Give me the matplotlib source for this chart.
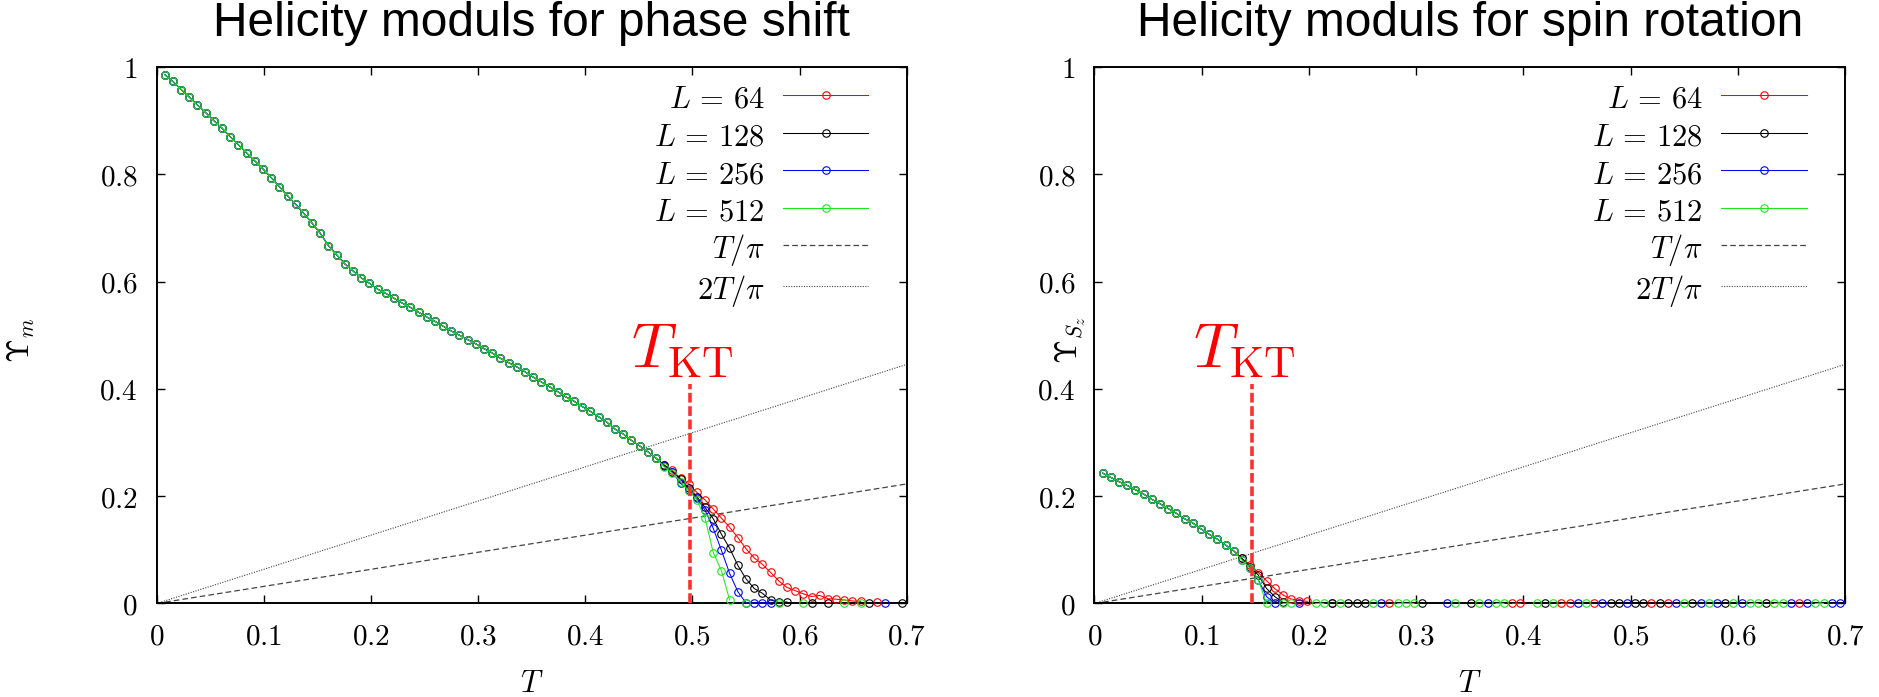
import numpy as np
import matplotlib
matplotlib.use("Agg")
import matplotlib.pyplot as plt
from matplotlib.ticker import FixedLocator, FuncFormatter

plt.rcParams["mathtext.fontset"] = "cm"
plt.rcParams["font.family"] = "DejaVu Serif"

# ---------------------------------------------------------------- data
# Monte Carlo temperatures: uniform grid, index k = 1..91
T_STEP = 0.00764
T = T_STEP * np.arange(1, 92)

sizes = [64, 128, 256, 512]
colors = ["#ff0000", "#000000", "#0000ff", "#1ee61e"]

# Upsilon_m (phase shift): all sizes coincide for k = 1..61
ups_m_common = [
    0.986, 0.973, 0.958, 0.944, 0.929, 0.915, 0.900, 0.886, 0.870, 0.855,
    0.840, 0.825, 0.810, 0.794, 0.777, 0.760, 0.744, 0.727, 0.709, 0.690,
    0.667, 0.650, 0.633, 0.620, 0.607, 0.597, 0.586, 0.578, 0.569, 0.560,
    0.552, 0.543, 0.534, 0.526, 0.517, 0.508, 0.500, 0.492, 0.484, 0.475,
    0.467, 0.457, 0.449, 0.441, 0.432, 0.422, 0.413, 0.404, 0.395, 0.385,
    0.377, 0.367, 0.358, 0.348, 0.338, 0.325, 0.316, 0.304, 0.294, 0.283,
    0.271,
]
# k = 62..91 for each size (negative = below the plotted range)
ups_m_tail_64 = [
    0.258, 0.248, 0.233, 0.223, 0.207, 0.193, 0.176, 0.159, 0.142, 0.123,
    0.102, 0.085, 0.073, 0.058, 0.042, 0.030, 0.024, 0.018, 0.013, 0.015,
    0.009, 0.008, 0.0065, 0.0047, 0.004, -0.002, 0.003, -0.002, -0.002, -0.002,
]
ups_m_tail_128 = [
    0.258, 0.246, 0.232, 0.215, 0.199, 0.179, 0.158, 0.129, 0.103, 0.071,
    0.046, 0.028, 0.019, 0.0065, 0.002, 0.003, -0.002, -0.002, 0.001, -0.002,
    0.001, -0.002, -0.002, -0.002, -0.002, 0.001, -0.002, -0.002, -0.002, 0.001,
]
ups_m_tail_256 = [
    0.256, 0.245, 0.224, 0.212, 0.196, 0.174, 0.140, 0.099, 0.056, 0.022,
    0.001, 0.001, 0.001, 0.001, -0.002, -0.002, -0.002, -0.002, -0.002, -0.002,
    -0.002, -0.002, -0.002, -0.002, -0.002, -0.002, -0.002, 0.001, -0.002, -0.002,
]
ups_m_tail_512 = [
    0.255, 0.243, 0.227, 0.210, 0.193, 0.159, 0.095, 0.061, 0.0065, -0.002,
    0.0, -0.002, -0.002, -0.002, 0.0, -0.002, -0.002, 0.0, -0.002, -0.002,
    -0.002, -0.002, 0.0, -0.002, 0.0, -0.002, -0.002, -0.002, -0.002, -0.002,
]

# Upsilon_Sz (spin rotation): all sizes coincide for k = 1..17
ups_s_common = [
    0.243, 0.235, 0.227, 0.220, 0.212, 0.204, 0.194, 0.186, 0.177, 0.168,
    0.158, 0.150, 0.139, 0.129, 0.120, 0.109, 0.098,
]
# k = 18..91 for each size
ups_s_tail_64 = [
    0.084, 0.072, 0.0575, 0.0425, 0.028, 0.016, 0.0084, 0.0055, 0.004, -0.002,
    -0.002, 0.0, -0.002, -0.002, -0.002, -0.002, -0.002, -0.002, 0.0, -0.002,
    -0.002, -0.002, -0.002, -0.002, -0.002, -0.002, -0.002, -0.002, -0.002, -0.002,
    -0.002, -0.002, -0.002, 0.0, 0.0, -0.002, -0.002, -0.002, -0.002, 0.0,
    0.0, -0.002, -0.002, 0.0, -0.002, -0.002, -0.002, -0.002, -0.002, -0.002,
    0.0, -0.002, 0.0, -0.002, -0.002, -0.002, -0.002, -0.002, -0.002, -0.002,
    -0.002, -0.002, -0.002, -0.002, -0.002, -0.002, -0.002, -0.002, 0.0, -0.002,
    -0.002, -0.002, -0.002, -0.002,
]
ups_s_tail_128 = [
    0.084, 0.068, 0.053, 0.028, 0.013, 0.002, -0.002, -0.002, -0.002, -0.002,
    -0.002, 0.0, -0.002, 0.0, 0.0, 0.0, -0.002, -0.002, -0.002, -0.002,
    -0.002, -0.002, 0.0, -0.002, -0.002, -0.002, -0.002, -0.002, 0.0, -0.002,
    -0.002, -0.002, -0.002, -0.002, -0.002, -0.002, -0.002, 0.0, -0.002, -0.002,
    -0.002, -0.002, -0.002, -0.002, -0.002, 0.0, 0.0, -0.002, 0.0, 0.0,
    -0.002, 0.0, -0.002, -0.002, -0.002, 0.0, -0.002, -0.002, -0.002, 0.0,
    -0.002, -0.002, -0.002, -0.002, 0.0, -0.002, -0.002, -0.002, -0.002, -0.002,
    -0.002, -0.002, -0.002, -0.002,
]
ups_s_tail_256 = [
    0.082, 0.066, 0.044, 0.013, 0.0, -0.002, -0.002, 0.0, -0.002, -0.002,
    -0.002, -0.002, -0.002, -0.002, -0.002, -0.002, -0.002, 0.0, -0.002, -0.002,
    -0.002, -0.002, -0.002, -0.002, -0.002, 0.0, -0.002, -0.002, -0.002, -0.002,
    0.0, -0.002, -0.002, -0.002, -0.002, -0.002, -0.002, -0.002, -0.002, -0.002,
    -0.002, 0.0, -0.002, -0.002, 0.0, -0.002, -0.002, 0.0, -0.002, -0.002,
    -0.002, -0.002, -0.002, 0.0, -0.002, -0.002, 0.0, -0.002, 0.0, -0.002,
    -0.002, 0.0, -0.002, -0.002, -0.002, -0.002, -0.002, 0.0, -0.002, 0.0,
    -0.002, -0.002, 0.0, 0.0,
]
ups_s_tail_512 = [
    0.081, 0.066, 0.044, 0.0, -0.002, 0.0, 0.0, -0.002, -0.002, 0.0,
    0.0, -0.002, 0.0, -0.002, -0.002, -0.002, 0.0, -0.002, -0.002, 0.0,
    0.0, 0.0, -0.002, -0.002, -0.002, -0.002, 0.0, -0.002, -0.002, 0.0,
    -0.002, 0.0, 0.0, -0.002, -0.002, -0.002, 0.0, -0.002, 0.0, -0.002,
    -0.002, -0.002, 0.0, -0.002, -0.002, -0.002, -0.002, -0.002, -0.002, -0.002,
    -0.002, -0.002, -0.002, -0.002, 0.0, -0.002, -0.002, 0.0, -0.002, -0.002,
    0.0, -0.002, 0.0, 0.0, -0.002, 0.0, 0.0, -0.002, -0.002, -0.002,
    0.0, 0.0, -0.002, -0.002,
]

# Kosterlitz-Thouless temperatures marked in each panel
T_KT_phase = 0.498
T_KT_spin = 0.147
T_KT_line_top = 0.41

x_ticks = [0, 0.1, 0.2, 0.3, 0.4, 0.5, 0.6, 0.7]
y_ticks = [0, 0.2, 0.4, 0.6, 0.8, 1.0]

ups_m = {
    64: ups_m_common + ups_m_tail_64,
    128: ups_m_common + ups_m_tail_128,
    256: ups_m_common + ups_m_tail_256,
    512: ups_m_common + ups_m_tail_512,
}
ups_s = {
    64: ups_s_common + ups_s_tail_64,
    128: ups_s_common + ups_s_tail_128,
    256: ups_s_common + ups_s_tail_256,
    512: ups_s_common + ups_s_tail_512,
}

# ---------------------------------------------------------------- figure
fig = plt.figure(figsize=(18.79, 6.97), dpi=100)
ax1 = fig.add_axes([0.08329, 0.13415, 0.39925, 0.76973])
ax2 = fig.add_axes([0.58249, 0.13415, 0.39941, 0.76973])

TICK_FS = 21
LEG_FS = 22
fmt = FuncFormatter(lambda v, p: "$%g$" % round(v, 2))


def style_axes(ax):
    ax.set_xlim(0, 0.7)
    ax.set_ylim(0, 1)
    ax.xaxis.set_major_locator(FixedLocator(x_ticks))
    ax.yaxis.set_major_locator(FixedLocator(y_ticks))
    ax.xaxis.set_major_formatter(fmt)
    ax.yaxis.set_major_formatter(fmt)
    ax.tick_params(direction="in", length=5.8, width=1.0, top=True, right=True,
                   labelsize=TICK_FS, pad=13.5)
    for s in ax.spines.values():
        s.set_linewidth(1.4)


def draw_panel(ax, curves, t_kt, title, ylabel, ylabel_x):
    style_axes(ax)
    for L, c in zip(sizes, colors):
        y = np.array(curves[L], dtype=float)
        y = np.where(y < 0, np.nan, y)  # values below the plotted range are not drawn
        ax.plot(T, y, color=c, lw=0.75, marker="o", ms=5.4, mfc="none",
                mew=0.8, clip_on=False, label=rf"$L\,=\,{L}$", zorder=3)
    tl = np.array([0.0, 0.7])
    ax.plot(tl, tl / np.pi, color="#444444", lw=0.9, ls=(0, (4.5, 2.5)),
            label=r"$T/\pi$", zorder=2)
    ax.plot(tl, 2 * tl / np.pi, color="#444444", lw=0.8, ls=(0, (1, 1.3)),
            label=r"$2T/\pi$", zorder=2)
    ax.plot([t_kt, t_kt], [0, T_KT_line_top], color="#ff3030", lw=2.6,
            ls=(0, (2.7, 1.0)), zorder=4, clip_on=False)
    ax.annotate(r"$T_{\rm KT}$", xy=(t_kt, T_KT_line_top + 0.03),
                xytext=(-6, 0), textcoords="offset points",
                ha="center", va="baseline", color="#ff0000", fontsize=45)
    ax.set_title(title, fontsize=34.5, family="Liberation Sans", pad=22)
    ax.set_xlabel(r"$T$", fontsize=22)
    ax.xaxis.set_label_coords(0.5, -0.12)
    ax.set_ylabel(ylabel, fontsize=22)
    ax.yaxis.set_label_coords(ylabel_x, 0.49)
    ax.legend(loc="upper right", bbox_to_anchor=(0.9488, 0.972),
              frameon=False, markerfirst=False, numpoints=1,
              fontsize=LEG_FS, handlelength=2.8, handleheight=1.2,
              handletextpad=0.6, labelspacing=0.15,
              borderaxespad=0.0, borderpad=0.0)


draw_panel(ax1, ups_m, T_KT_phase, "Helicity moduls for phase shift",
           r"$\Upsilon_m$", -0.159)
draw_panel(ax2, ups_s, T_KT_spin, "Helicity moduls for spin rotation",
           r"$\Upsilon_{S_z}$", -0.008)

fig.savefig("out.png", dpi=100)
